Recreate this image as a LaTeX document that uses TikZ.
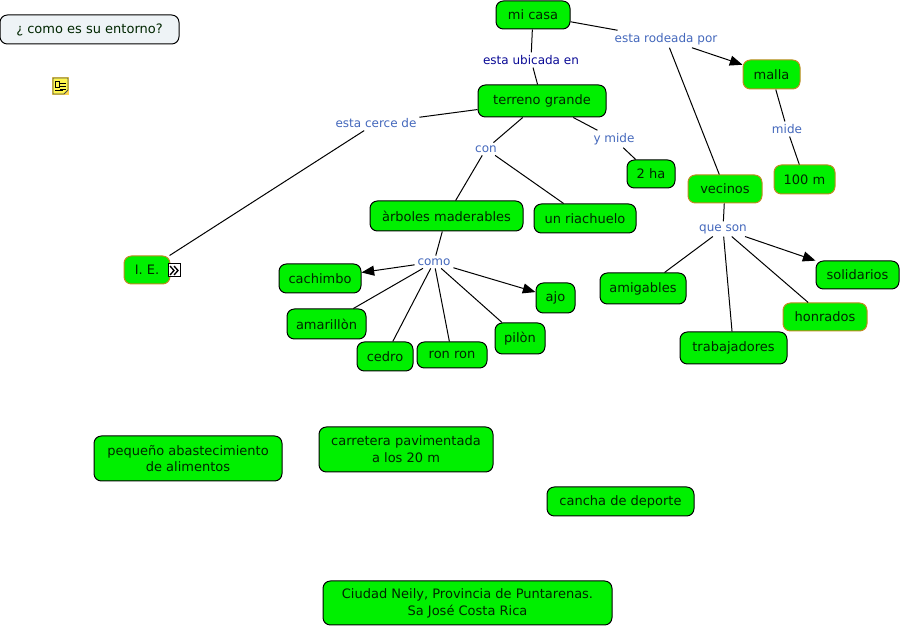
\documentclass[tikz,border=0pt]{standalone}
\usepackage{fontspec}
\setmainfont{DejaVu Sans}
\usetikzlibrary{arrows.meta}
\definecolor{cgreen}{HTML}{00F000}
\definecolor{corange}{HTML}{C08A20}
\definecolor{clink}{HTML}{4468BC}
\definecolor{cdark}{HTML}{0A0A96}
\definecolor{cpale}{HTML}{EEF3F6}
\tikzset{
  x=0.75pt,y=-0.75pt,
  concept/.style={draw=black,fill=cgreen,rounded corners=5.5pt,line width=0.75pt,align=center,
    font=\fontsize{9.75pt}{12.6pt}\selectfont,inner sep=0pt,text=black!85!green},
  hl/.style={concept,draw=corange},
  lnk/.style={font=\fontsize{9pt}{11pt}\selectfont,text=clink,inner sep=2pt,fill=white},
  edge/.style={draw=black,line width=0.75pt},
  arr/.style={edge,-{Triangle[length=9.5pt,width=7.5pt]}},
}
\newcommand{\cbox}[7][concept]{% style,name,x1,y1,x2,y2,text
  \node[#1,minimum width=#5*0.75pt-#3*0.75pt,minimum height=#6*0.75pt-#4*0.75pt] (#2) at ({(#3+#5)/2},{(#4+#6)/2}) {#7};}
\begin{document}
\begin{tikzpicture}
\useasboundingbox (0,0) rectangle (901,627);
\cbox[concept,fill=cpale]{q}{0}{15}{179}{44}{¿ como es su entorno?}
\cbox{micasa}{496}{1}{570}{29}{mi casa}
\cbox{terreno}{478}{85}{606}{117}{terreno grande}
\cbox[hl]{malla}{743}{60}{800}{89}{malla}
\cbox[hl]{cien}{774}{165}{835}{194}{100 m}
\cbox{dos}{627}{160}{675}{188}{2 ha}
\cbox[hl]{vecinos}{688}{175}{762}{203}{vecinos}
\cbox{arboles}{370}{201}{523}{231}{àrboles maderables}
\cbox{riachuelo}{534}{204}{636}{233}{un riachuelo}
\cbox[hl]{ie}{124}{256}{170}{284}{I. E.}
\cbox{cachimbo}{279}{264}{361}{293}{cachimbo}
\cbox{amarillon}{287}{309}{366}{339}{amarillòn}
\cbox{cedro}{357}{342}{413}{371}{cedro}
\cbox{ronron}{417}{342}{487}{368}{ron ron}
\cbox{pilon}{495}{323}{545}{354}{pilòn}
\cbox{ajo}{536}{283}{575}{313}{ajo}
\cbox{amigables}{600}{273}{686}{304}{amigables}
\cbox{trabajadores}{680}{332}{787}{364}{trabajadores}
\cbox[hl]{honrados}{783}{303}{867}{331}{honrados}
\cbox{solidarios}{816}{261}{899}{289}{solidarios}
\cbox{pequeno}{94}{436}{282}{481}{pequeño abastecimiento\\de alimentos}
\cbox{carretera}{319}{427}{493}{472}{carretera pavimentada\\a los 20 m}
\cbox{cancha}{547}{487}{694}{516}{cancha de deporte}
\cbox{ciudad}{323}{581}{612}{625}{Ciudad Neily, Provincia de Puntarenas.\\Sa José Costa Rica}

\node[lnk,text=cdark] (lubicada) at (531,60) {esta ubicada en};
\node[lnk] (lrodeada) at (666,39) {esta rodeada por};
\node[lnk] (lmide) at (787,129) {mide};
\node[lnk] (lcerce) at (376,123) {esta cerce de};
\node[lnk] (lcon) at (486,149) {con};
\node[lnk] (lymide) at (614,139) {y mide};
\node[lnk] (lcomo) at (434,262) {como};
\node[lnk] (lqueson) at (723,229) {que son};

\begin{scope}[on background layer/.style={}]
\draw[edge] (micasa) -- (lubicada);
\draw[edge] (lubicada) -- (terreno);
\draw[edge] (micasa) -- (lrodeada);
\draw[arr] (lrodeada) -- (malla);
\draw[edge] (lrodeada) -- (vecinos);
\draw[edge] (malla) -- (lmide);
\draw[edge] (lmide) -- (cien);
\draw[edge] (terreno) -- (lcerce);
\draw[edge] (lcerce) -- (ie);
\draw[edge] (terreno) -- (lcon);
\draw[edge] (lcon) -- (arboles);
\draw[edge] (lcon) -- (riachuelo);
\draw[edge] (terreno) -- (lymide);
\draw[edge] (lymide) -- (dos);
\draw[edge] (arboles) -- (lcomo);
\draw[arr] (lcomo) -- (cachimbo);
\draw[edge] (lcomo) -- (amarillon);
\draw[edge] (lcomo) -- (cedro);
\draw[edge] (lcomo) -- (ronron);
\draw[edge] (lcomo) -- (pilon);
\draw[arr] (lcomo) -- (ajo);
\draw[edge] (vecinos) -- (lqueson);
\draw[edge] (lqueson) -- (amigables);
\draw[edge] (lqueson) -- (trabajadores);
\draw[edge] (lqueson) -- (honrados);
\draw[arr] (lqueson) -- (solidarios);
\end{scope}
% note icon
\fill[yellow!60!orange!70!white] (52,77) rectangle (69,95);
\draw[black!70,fill=yellow!70!white,line width=0.6pt] (53,78) -- (68,78) -- (68,90) -- (64,94) -- (53,94) -- cycle;
\foreach \yy in {83,86,89} \draw[black,line width=0.6pt] (60,\yy) -- (66,\yy);
\draw[black,line width=0.6pt] (55,81) rectangle (59,87);
\draw[black,line width=0.6pt] (55,90) -- (63,90);
% link icon
\draw[black,fill=white,line width=0.75pt] (168,264) rectangle (180,277);
\draw[black,line width=1pt] (170,266) -- (174,270.5) -- (170,275) (174,266) -- (178,270.5) -- (174,275);
\end{tikzpicture}
\end{document}
